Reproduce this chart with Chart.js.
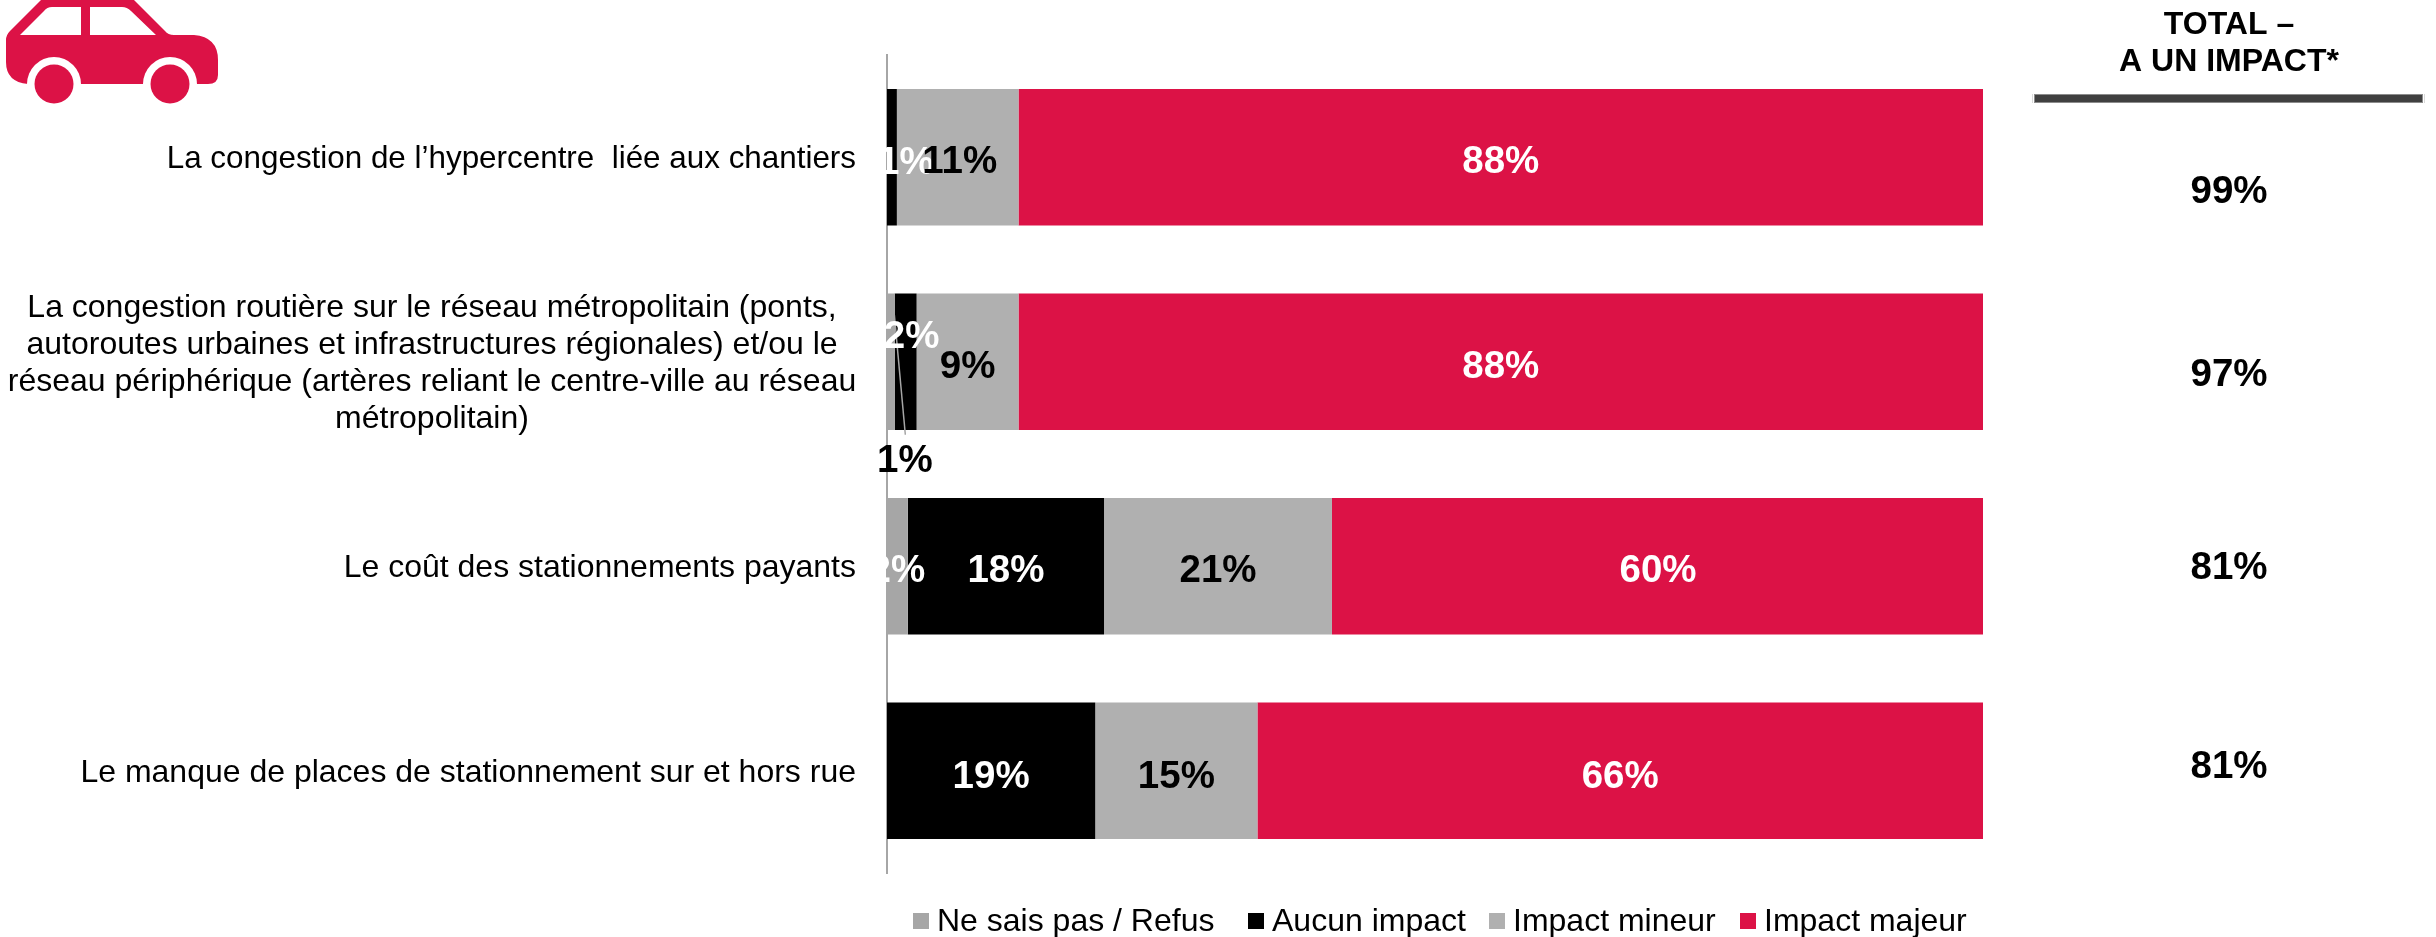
<!doctype html>
<html>

<head>
    <meta charset="utf-8">
    <title>Impact - automobilistes</title>
    <script src="https://cdn.jsdelivr.net/npm/chart.js"></script>
    <style>
        body { margin: 0; background: #fff; }
        #zone { position: relative; width: 2436px; height: 937px; overflow: hidden; }
        #auto { position: absolute; left: 0; top: 0; }
        #graphique { position: absolute; left: 0; top: 0; }
    </style>
</head>

<body>
    <div id="zone">
        <canvas id="graphique" width="2436" height="937"></canvas>
        <svg id="auto" width="230" height="110" viewBox="0 0 230 110">
            <path fill="#dc1246" d="M6 40 Q6 35 10 31 L41 0 L134 0 L165 31 Q168 35 174 35 L194 35 Q218 37 218 60 L218 75 Q218 84 208 84 L28 84 Q6 82 6 62 Z" />
            <path fill="#fff" d="M20 35 L44 11 Q47 7 52 7 L81 7 L81 35 Z M90 35 L90 7 L122 7 Q127 7 131 11 L156 35 Z" />
            <circle cx="54" cy="84" r="27" fill="#fff" />
            <circle cx="170" cy="84" r="27" fill="#fff" />
            <rect x="20" y="85" width="190" height="25" fill="#fff" />
            <circle cx="54" cy="84" r="19.5" fill="#dc1246" />
            <circle cx="170" cy="84" r="19.5" fill="#dc1246" />
        </svg>
    </div>

    <script>
        var enonces = [
            ['La congestion de l’hypercentre  liée aux chantiers'],
            ['La congestion routière sur le réseau métropolitain (ponts,',
                'autoroutes urbaines et infrastructures régionales) et/ou le',
                'réseau périphérique (artères reliant le centre-ville au réseau',
                'métropolitain)'],
            ['Le coût des stationnements payants'],
            ['Le manque de places de stationnement sur et hors rue']
        ];
        var neSaisPas = [0, 0.7, 1.9, 0];
        var aucunImpact = [0.9, 2, 17.9, 19];
        var impactMineur = [11.1, 9.3, 20.8, 14.8];
        var impactMajeur = [88, 88, 59.5, 66.2];
        var totaux = ['99%', '97%', '81%', '81%'];
        var enteteTotal = ['TOTAL –', 'A UN IMPACT*'];

        var rouge = '#dc1246';
        var police = '"Liberation Sans", Arial, sans-serif';

        // decalages des etiquettes deplacees a la main dans l'original [dx, dy]
        var decalages = [
            { 1: [14, 94], 2: [0, 0] },
            { 0: [14, 1], 1: [6, -30] },
            { 0: [2, 0] },
            {}
        ];
        var decalageLignes = [0, 1, 0, 2];
        var decalageTotaux = [35, 14, 2, -3];
        var tailleEnonces = [31.4, 32, 32, 32];
        var legendeX = [913, 1248, 1489, 1740];

        var etiquettes = {
            id: 'etiquettes',
            afterDraw: function (chart) {
                var ctx = chart.ctx;
                var echelleY = chart.scales.y;
                ctx.save();

                // enonces a gauche
                ctx.fillStyle = '#000';
                ctx.textBaseline = 'middle';
                enonces.forEach(function (lignes, i) {
                    var y = echelleY.getPixelForValue(i) + 2;
                    var multi = lignes.length > 1;
                    ctx.font = tailleEnonces[i] + 'px ' + police;
                    ctx.textAlign = multi ? 'center' : 'right';
                    lignes.forEach(function (ligne, j) {
                        ctx.fillText(ligne, multi ? 432 : 856, y + (j - (lignes.length - 1) / 2) * 37);
                    });
                });

                // valeurs dans les barres
                ctx.font = 'bold 38.5px ' + police;
                ctx.textAlign = 'center';
                chart.data.datasets.forEach(function (serie, d) {
                    chart.getDatasetMeta(d).data.forEach(function (barre, i) {
                        if (!serie.data[i]) return;
                        var centre = barre.getCenterPoint();
                        var dec = decalages[d][i] || [0, 0];
                        if (d === 0 && i === 1) {
                            // trait de rappel du 1%
                            ctx.strokeStyle = '#a6a6a6';
                            ctx.lineWidth = 1.5;
                            ctx.beginPath();
                            ctx.moveTo(centre.x + 3.5, centre.y - 47);
                            ctx.lineTo(centre.x + 14.5, centre.y + 73);
                            ctx.stroke();
                        }
                        ctx.fillStyle = serie.couleurTexte;
                        if (d === 0 && i === 1) ctx.fillStyle = '#000';
                        ctx.fillText(Math.round(serie.data[i]) + '%', centre.x + dec[0], centre.y + dec[1] + 5 + decalageLignes[i]);
                    });
                });

                // colonne de droite
                ctx.fillStyle = '#000';
                ctx.font = 'bold 32px ' + police;
                ctx.fillText(enteteTotal[0], 2229, 25);
                ctx.fillText(enteteTotal[1], 2229, 62);
                ctx.fillStyle = '#404040';
                ctx.strokeStyle = '#8c8c8c';
                ctx.lineWidth = 1;
                ctx.fillRect(2035, 94, 387, 9);
                ctx.strokeRect(2034.5, 94.5, 388, 8);
                ctx.strokeStyle = '#d9d9d9';
                ctx.beginPath();
                ctx.moveTo(2032.5, 94); ctx.lineTo(2032.5, 103);
                ctx.moveTo(2424.5, 94); ctx.lineTo(2424.5, 103);
                ctx.stroke();
                ctx.font = 'bold 38.5px ' + police;
                totaux.forEach(function (total, i) {
                    ctx.fillStyle = '#000';
                    ctx.fillText(total, 2229, echelleY.getPixelForValue(i) + decalageTotaux[i]);
                });

                // legende
                ctx.font = '32px ' + police;
                ctx.textAlign = 'left';
                chart.data.datasets.forEach(function (serie, d) {
                    ctx.fillStyle = serie.backgroundColor;
                    ctx.fillRect(legendeX[d], 913, 16, 16);
                    ctx.fillStyle = '#000';
                    ctx.fillText(serie.label, legendeX[d] + 24, 922);
                });
                ctx.restore();
            }
        };

        new Chart(document.getElementById('graphique').getContext('2d'), {
            type: 'bar',
            plugins: [etiquettes],
            data: {
                labels: enonces,
                datasets: [
                    { label: 'Ne sais pas / Refus', data: neSaisPas, backgroundColor: '#a6a6a6', couleurTexte: '#fff' },
                    { label: 'Aucun impact', data: aucunImpact, backgroundColor: '#000', couleurTexte: '#fff' },
                    { label: 'Impact mineur', data: impactMineur, backgroundColor: '#b0b0b0', couleurTexte: '#000' },
                    { label: 'Impact majeur', data: impactMajeur, backgroundColor: rouge, couleurTexte: '#fff' }
                ]
            },
            options: {
                indexAxis: 'y',
                responsive: false,
                animation: false,
                barPercentage: 0.667,
                categoryPercentage: 1,
                layout: {
                    padding: { left: 887, right: 453, top: 55, bottom: 64 }
                },
                scales: {
                    x: {
                        display: false,
                        stacked: true,
                        min: 0,
                        max: 100
                    },
                    y: {
                        stacked: true,
                        grid: { display: false },
                        border: { display: true, color: '#a6a6a6', width: 2 },
                        ticks: { display: false },
                        afterFit: function (echelle) { echelle.width = 0; }
                    }
                },
                plugins: {
                    tooltip: { enabled: false },
                    legend: { display: false }
                }
            }
        });
    </script>
</body>

</html>
